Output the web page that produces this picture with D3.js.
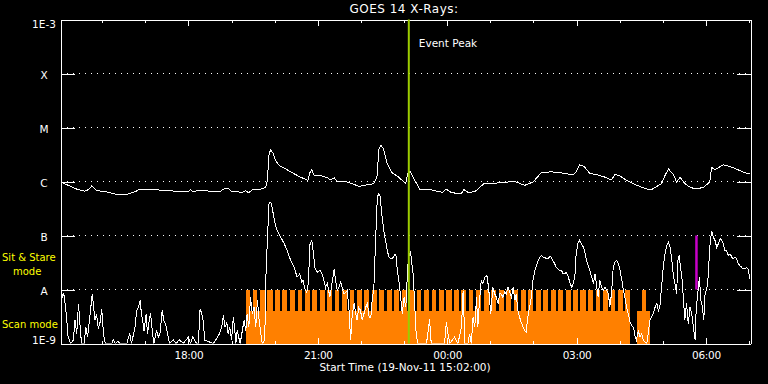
<!DOCTYPE html>
<html>
<head>
<meta charset="utf-8">
<script src="https://cdn.jsdelivr.net/npm/d3@7"></script>
<style>
body { margin: 0; background: #000; }
svg { color: #fff; }
svg text { font-family: "DejaVu Sans", sans-serif; }
</style>
</head>
<body>
<svg id="chart" width="768" height="384"></svg>
<script>
// GOES 14 X-ray flux, 19-Nov-11 15:02 to 20-Nov-11 07:02
// times are hours after 00:00 on 19-Nov (so 24+ is the next day), flux is log10(W/m^2)

var levelLabels = ["1E-3", "X", "M", "C", "B", "A", "1E-9"];
var levelValues = [1e-3, 1e-4, 1e-5, 1e-6, 1e-7, 1e-8, 1e-9];

var longTimes = [15.04,15.18,15.41,15.60,15.68,15.76,15.87,16.10,16.34,16.57,16.76,16.88,17.15,17.57,17.80,18.00,18.05,18.11,
  18.27,18.50,18.73,18.81,18.92,19.00,19.10,19.25,19.33,19.40,19.48,19.64,19.79,19.83,19.87,19.91,19.97,20.02,20.10,20.26,
  20.41,20.60,20.77,20.82,20.86,20.91,21.07,21.22,21.30,21.38,21.45,21.61,21.76,21.96,22.15,22.30,22.37,22.42,22.46,22.52,
  22.61,22.73,22.83,22.96,23.04,23.08,23.14,23.21,23.36,23.56,23.71,23.90,23.98,24.10,24.33,24.39,24.48,24.64,24.75,24.87,
  25.10,25.33,25.53,25.80,25.99,26.18,26.41,26.65,26.92,26.99,27.07,27.17,27.31,27.50,27.66,27.81,27.89,27.99,28.16,28.36,
  28.63,28.74,28.97,29.05,29.13,29.24,29.32,29.40,29.48,29.59,29.75,29.94,30.09,30.13,30.21,30.40,30.63,30.87,31.02];
var longFlux = [-6.01,-6.06,-6.14,-6.18,-6.15,-6.08,-6.17,-6.19,-6.24,-6.24,-6.19,-6.14,-6.15,-6.17,-6.19,-6.19,-6.15,-6.19,
  -6.16,-6.18,-6.19,-6.14,-6.12,-6.19,-6.19,-6.20,-6.17,-6.21,-6.15,-6.15,-6.11,-5.98,-5.49,-5.41,-5.49,-5.61,-5.70,-5.77,
  -5.84,-5.92,-5.98,-5.83,-5.78,-5.88,-5.89,-5.93,-5.97,-5.93,-6.01,-5.99,-6.03,-6.09,-6.06,-6.04,-5.92,-5.39,-5.33,-5.39,
  -5.67,-5.85,-5.89,-5.98,-6.04,-5.86,-5.81,-5.92,-6.14,-6.14,-6.17,-6.20,-6.14,-6.21,-6.22,-6.15,-6.20,-6.19,-6.11,-6.03,
  -6.03,-6.02,-5.99,-6.07,-6.01,-5.84,-5.82,-5.84,-5.88,-5.82,-5.69,-5.72,-5.85,-5.88,-5.92,-5.97,-5.87,-5.89,-5.98,-6.06,
  -6.14,-6.15,-6.04,-5.89,-5.77,-5.86,-6.01,-5.92,-6.01,-6.09,-6.14,-6.11,-6.01,-5.74,-5.78,-5.69,-5.74,-5.83,-5.86];

var shortTimes = [15.04,15.06,15.08,15.11,15.14,15.18,15.21,15.27,15.33,15.37,15.41,15.45,15.49,15.52,15.58,15.62,15.66,15.72,
  15.77,15.81,15.83,15.87,15.91,15.95,15.99,16.03,16.07,16.22,16.26,16.30,16.37,16.41,16.57,16.64,16.68,16.76,16.80,16.84,
  16.88,16.91,16.94,16.97,17.02,17.05,17.09,17.12,17.17,17.20,17.26,17.30,17.34,17.39,17.43,17.48,17.51,17.56,17.65,17.71,
  17.79,17.88,18.00,18.05,18.10,18.19,18.23,18.27,18.31,18.34,18.38,18.58,18.72,18.77,18.81,18.85,18.89,18.92,18.96,19.00,
  19.04,19.07,19.10,19.13,19.20,19.29,19.33,19.36,19.40,19.44,19.48,19.52,19.56,19.60,19.64,19.68,19.71,19.77,19.79,19.83,
  19.87,19.91,19.94,19.98,20.02,20.06,20.14,20.22,20.29,20.37,20.45,20.52,20.58,20.63,20.66,20.70,20.74,20.77,20.80,20.82,
  20.86,20.90,20.93,20.99,21.05,21.10,21.14,21.18,21.22,21.28,21.31,21.38,21.41,21.45,21.49,21.53,21.57,21.61,21.68,21.72,
  21.76,21.80,21.84,21.88,21.91,21.95,21.99,22.03,22.07,22.11,22.15,22.19,22.23,22.26,22.30,22.34,22.38,22.41,22.44,22.50,
  22.53,22.57,22.61,22.65,22.69,22.73,22.77,22.81,22.84,22.88,22.92,22.96,23.00,23.04,23.07,23.10,23.15,23.21,23.25,23.28,
  23.32,23.52,23.57,23.59,23.63,23.94,23.98,24.02,24.06,24.17,24.25,24.33,24.37,24.41,24.48,24.52,24.56,24.60,24.64,24.68,
  24.71,24.75,24.79,24.83,24.87,24.92,24.96,25.01,25.06,25.10,25.14,25.18,25.22,25.25,25.29,25.33,25.37,25.41,25.45,25.49,
  25.53,25.57,25.60,25.64,25.70,25.76,25.80,25.83,25.87,25.91,25.95,25.99,26.03,26.07,26.11,26.15,26.18,26.22,26.26,26.30,
  26.34,26.38,26.41,26.45,26.49,26.53,26.57,26.61,26.65,26.69,26.73,26.76,26.80,26.85,26.89,26.93,26.96,26.99,27.03,27.07,
  27.11,27.16,27.20,27.23,27.27,27.31,27.35,27.39,27.43,27.47,27.50,27.54,27.58,27.62,27.66,27.70,27.74,27.77,27.81,27.85,
  27.89,27.93,27.97,28.01,28.05,28.08,28.12,28.16,28.20,28.24,28.28,28.32,28.36,28.39,28.43,28.47,28.51,28.55,28.63,28.66,
  28.70,28.74,28.78,28.82,28.86,28.90,28.93,28.97,29.01,29.05,29.09,29.13,29.17,29.21,29.24,29.28,29.32,29.35,29.38,29.41,
  29.45,29.48,29.51,29.55,29.59,29.63,29.67,29.71,29.75,29.77,29.80,29.85,29.88,29.92,29.95,29.98,30.02,30.05,30.09,30.13,
  30.17,30.21,30.25,30.29,30.33,30.37,30.40,30.44,30.48,30.52,30.56,30.60,30.63,30.67,30.71,30.75,30.79,30.83,30.86,30.90,
  30.94,30.98,31.02];
var shortFlux = [-8.05,-8.03,-8.14,-8.08,-8.26,-8.57,-8.88,-9,-8.94,-8.57,-8.82,-8.26,-8.70,-9,-9,-8.70,-8.88,-8.45,
  -8.08,-8.39,-8.57,-8.45,-8.73,-8.61,-8.36,-8.82,-9,-9,-8.93,-9,-8.96,-9,-9,-8.81,-9,-8.70,-8.39,-8.33,
  -8.20,-8.45,-8.57,-8.76,-8.45,-8.82,-8.57,-8.44,-8.82,-9,-8.76,-8.88,-8.82,-8.39,-8.57,-8.67,-8.79,-9,-8.93,-9,
  -8.93,-9,-8.88,-9,-8.88,-9,-9,-8.36,-8.45,-8.57,-8.94,-9,-8.82,-8.70,-8.48,-8.70,-8.61,-8.82,-8.70,-8.94,
  -8.51,-8.70,-9,-8.76,-9,-8.57,-8.76,-8.45,-8.70,-8.14,-8.45,-8.33,-8.70,-8.20,-8.57,-8.82,-9,-8.94,-7.89,-7.09,
  -6.38,-6.38,-6.48,-6.66,-6.81,-6.91,-7.03,-7.15,-7.28,-7.46,-7.59,-7.77,-7.71,-7.86,-7.83,-7.99,-8.05,-7.96,-7.52,-7.15,
  -7.09,-7.34,-7.59,-7.68,-7.65,-7.71,-7.83,-7.96,-7.89,-8.14,-7.99,-7.62,-7.83,-8.02,-7.96,-7.86,-7.99,-8.08,-8.02,-8.33,
  -8.94,-8.45,-8.26,-8.45,-8.57,-8.33,-8.39,-8.57,-8.45,-8.33,-8.26,-8.51,-8.51,-8.20,-7.96,-7.09,-6.29,-6.23,-6.26,-6.72,
  -6.91,-7.09,-7.28,-7.40,-7.43,-7.43,-7.37,-7.34,-7.62,-7.83,-8.14,-8.45,-8.14,-8.33,-7.83,-7.40,-7.31,-7.71,-8.33,-8.82,
  -9,-9,-8.70,-8.54,-9,-9,-8.61,-8.82,-9,-8.88,-9,-8.70,-8.02,-9,-9,-8.82,-9,-8.51,-8.70,-8.14,
  -8.70,-8.20,-7.83,-7.89,-7.77,-7.74,-7.96,-8.45,-7.96,-8.08,-8.14,-8.26,-8.08,-8.08,-8.14,-8.05,-8.08,-7.96,-8.05,-8.14,
  -7.96,-8.20,-8.08,-8.39,-8.57,-8.70,-8.76,-8.79,-8.51,-8.33,-8.14,-7.83,-7.65,-7.56,-7.46,-7.40,-7.37,-7.40,-7.40,-7.43,
  -7.43,-7.39,-7.40,-7.46,-7.52,-7.59,-7.62,-7.65,-7.65,-7.71,-7.71,-7.68,-7.74,-7.89,-7.96,-7.86,-7.77,-7.34,-7.15,-7.09,
  -7.15,-7.22,-7.34,-7.46,-7.56,-7.65,-7.77,-7.89,-7.71,-7.96,-8.14,-7.83,-7.96,-8.02,-7.96,-8.02,-8.08,-8.33,-8.08,-7.59,
  -7.49,-7.46,-7.52,-7.65,-7.83,-7.99,-8.14,-8.33,-8.45,-8.61,-8.67,-8.70,-8.88,-8.94,-8.76,-8.88,-8.82,-8.94,-9,-8.82,
  -8.57,-8.51,-8.45,-8.33,-8.26,-8.39,-8.33,-7.96,-7.59,-7.34,-7.19,-7.12,-7.22,-7.46,-7.71,-7.89,-8.08,-7.46,-7.37,-7.59,
  -7.83,-8.20,-8.57,-8.26,-8.64,-8.33,-8.45,-8.70,-8.94,-8.45,-8.14,-7.77,-8.20,-8.33,-8.57,-8.08,-7.99,-7.77,-7.22,-6.91,
  -7.03,-7.09,-7.22,-7.15,-7.06,-7.09,-7.15,-7.28,-7.28,-7.37,-7.34,-7.40,-7.43,-7.40,-7.43,-7.52,-7.56,-7.59,-7.62,-7.62,
  -7.59,-7.62,-7.80];

// EIS observing mode: orange blocks, with the upper level dropping in short gaps
var modeBlocks = [[19.33, 28.24], [28.41, 28.70]];
var modeGaps = [19.46,19.63,19.80,19.98,20.15,20.32,20.50,20.67,20.84,21.01,21.19,21.36,21.53,21.71,21.88,22.05,22.22,
  22.40,22.57,22.74,22.92,23.09,23.26,23.43,23.61,23.78,23.95,24.13,24.30,24.47,24.64,24.82,24.99,25.16,25.34,25.51,
  25.68,25.85,26.03,26.20,26.37,26.55,26.72,26.89,27.06,27.24,27.41,27.58,27.76,27.93,28.10];
var lateTeeth = [[28.51, 28.60]];
var modeHigh = 1e-8, modeLow = 4e-9, gapHalf = 0.03;

var eventPeak = 23.11;
var marker = [29.78, 1e-8, 1e-7];

var day0 = Date.UTC(2011, 10, 19);
function toDate(h) { return new Date(day0 + h * 3600000); }

var svg = d3.select("#chart");
svg.append("rect").attr("width", 768).attr("height", 384).attr("fill", "#000");

var x = d3.scaleUtc()
    .domain([toDate(15 + 2 / 60), toDate(31 + 2 / 60)])
    .range([60.5, 750.5]);
var y = d3.scaleLog()
    .domain([1e-9, 1e-3])
    .range([343.5, 19.5])
    .clamp(true);

svg.append("clipPath").attr("id", "plot")
  .append("rect").attr("x", 60.5).attr("y", 19.5).attr("width", 690).attr("height", 324);

// dotted grid at the class levels
svg.append("g").selectAll("line")
    .data(levelValues.slice(1, 6))
  .enter().append("line")
    .attr("x1", 60.5).attr("x2", 750.5)
    .attr("y1", function(d) { return y(d); })
    .attr("y2", function(d) { return y(d); })
    .attr("stroke", "#fff")
    .attr("stroke-dasharray", "1,5")
    .attr("shape-rendering", "crispEdges");

// mode bars
var teeth = [];
var b0 = modeBlocks[0];
var prev = b0[0];
modeGaps.forEach(function(g) {
    teeth.push([prev, g - gapHalf]);
    prev = g + gapHalf;
});
teeth.push([prev, b0[1]]);
teeth = teeth.concat(lateTeeth);

var modeG = svg.append("g").attr("shape-rendering", "crispEdges").attr("fill", "#ff8000");
modeG.selectAll("rect.low")
    .data(modeBlocks)
  .enter().append("rect")
    .attr("class", "low")
    .attr("x", function(d) { return x(toDate(d[0])); })
    .attr("width", function(d) { return x(toDate(d[1])) - x(toDate(d[0])); })
    .attr("y", y(modeLow))
    .attr("height", y(1e-9) - y(modeLow));
modeG.selectAll("rect.high")
    .data(teeth)
  .enter().append("rect")
    .attr("class", "high")
    .attr("x", function(d) { return x(toDate(d[0])); })
    .attr("width", function(d) { return x(toDate(d[1])) - x(toDate(d[0])); })
    .attr("y", y(modeHigh))
    .attr("height", y(modeLow) - y(modeHigh));

// magenta marker
svg.append("line")
    .attr("x1", x(toDate(marker[0]))).attr("x2", x(toDate(marker[0])))
    .attr("y1", y(marker[1])).attr("y2", y(marker[2]))
    .attr("stroke", "#c800c8").attr("stroke-width", 2.5);

// flux curves
var line = d3.line()
    .x(function(d) { return x(toDate(d[0])); })
    .y(function(d) { return y(Math.pow(10, d[1])); });

var curves = svg.append("g").attr("clip-path", "url(#plot)");
[[shortTimes, shortFlux], [longTimes, longFlux]].forEach(function(s) {
    var pts = s[0].map(function(t, i) { return [t, s[1][i]]; });
    curves.append("path")
        .attr("d", line(pts))
        .attr("fill", "none")
        .attr("stroke", "#fff")
        .attr("stroke-width", 1)
        .attr("shape-rendering", "crispEdges");
});

// axes
function styleAxis(g) {
    g.attr("shape-rendering", "crispEdges");
    g.select(".domain").attr("stroke", "#fff");
    g.selectAll(".tick line").attr("stroke", "#fff");
}

var xMajor = d3.utcHour.every(3), xMinor = d3.utcHour.every(1);

svg.append("g").attr("transform", "translate(0,343.5)")
    .call(d3.axisBottom(x).ticks(xMinor).tickSize(-3).tickSizeOuter(0).tickFormat(""))
    .call(styleAxis);
var xb = svg.append("g").attr("transform", "translate(0,343.5)")
    .call(d3.axisBottom(x).ticks(xMajor).tickSize(-6).tickSizeOuter(0).tickPadding(8)
        .tickFormat(d3.utcFormat("%H:%M")))
    .call(styleAxis);
xb.selectAll("text").attr("fill", "#fff").attr("font-size", 10.5)
    .attr("font-family", "DejaVu Sans").attr("letter-spacing", -0.3);

svg.append("g").attr("transform", "translate(0,19.5)")
    .call(d3.axisTop(x).ticks(xMinor).tickSize(-3).tickSizeOuter(0).tickFormat(""))
    .call(styleAxis);
svg.append("g").attr("transform", "translate(0,19.5)")
    .call(d3.axisTop(x).ticks(xMajor).tickSize(-6).tickSizeOuter(0).tickFormat(""))
    .call(styleAxis);

var yl = svg.append("g").attr("transform", "translate(60.5,0)")
    .call(d3.axisLeft(y).tickValues(levelValues).tickSize(-14).tickSizeOuter(0)
        .tickFormat(function(d, i) { return levelLabels[i]; }))
    .call(styleAxis);
yl.selectAll("text")
    .attr("fill", "#fff").attr("font-size", 10.5).attr("font-family", "DejaVu Sans")
    .attr("text-anchor", "middle").attr("x", -16.5)
    .attr("dy", function(d, i) { return i === 0 ? 7.5 : (i === 6 ? 0 : 4.5); });

svg.append("g").attr("transform", "translate(750.5,0)")
    .call(d3.axisRight(y).tickValues(levelValues).tickSize(-14).tickSizeOuter(0).tickFormat(""))
    .call(styleAxis);

// event peak
var xp = x(toDate(eventPeak));
svg.append("line")
    .attr("x1", xp).attr("x2", xp).attr("y1", 19.5).attr("y2", 343.5)
    .attr("stroke", "#9ccc00").attr("stroke-width", 2);
svg.append("text").attr("x", xp + 10).attr("y", 46.7)
    .attr("fill", "#fff").attr("font-size", 10.5)
    .text("Event Peak");

// titles and mode labels
svg.append("text").attr("x", 404).attr("y", 13.3)
    .attr("text-anchor", "middle").attr("fill", "#fff")
    .attr("font-size", 12).attr("letter-spacing", 0.5)
    .text("GOES 14 X-Rays:");
svg.append("text").attr("x", 405).attr("y", 371)
    .attr("text-anchor", "middle").attr("fill", "#fff").attr("font-size", 10.5)
    .text("Start Time (19-Nov-11 15:02:00)");

svg.append("text").attr("x", 2).attr("y", 261).attr("fill", "#ffff00").attr("font-size", 10).text("Sit & Stare");
svg.append("text").attr("x", 13).attr("y", 275).attr("fill", "#ffff00").attr("font-size", 10).text("mode");
svg.append("text").attr("x", 2).attr("y", 327.7).attr("fill", "#ffff00").attr("font-size", 10).text("Scan mode");
</script>
</body>
</html>
